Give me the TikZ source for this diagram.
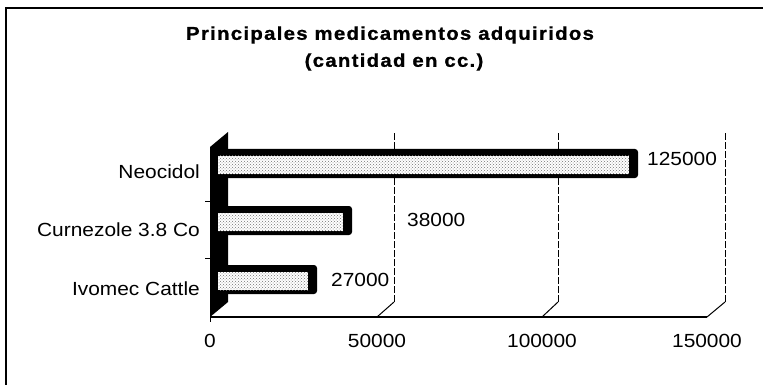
\documentclass[tikz,border=0pt]{standalone}
\usepackage{fontspec}
\setmainfont{Liberation Sans}[FakeStretch=1.1]
\newfontfamily\titlefont{Liberation Sans}[FakeStretch=1.1,LetterSpace=7,FakeBold=1]
\usetikzlibrary{patterns}
\begin{document}
\begin{tikzpicture}[x=1pt,y=-1pt,
  lbl/.style={font=\fontsize{19}{21}\selectfont, inner sep=0pt},
  ttl/.style={font=\titlefont\bfseries\fontsize{18.5}{20}\selectfont, inner sep=0pt},
  grid/.style={line width=1pt, dash pattern=on 7pt off 2pt},
  axisline/.style={line width=1.2pt},
  barface/.style={fill=white},
  bartex/.style={pattern=crosshatch dots, pattern color=gray!90!black}]
\useasboundingbox (0,0) rectangle (763,385);
% frame
\draw[line width=1.6pt] (5,8) -- (763,8);
\draw[line width=1.6pt] (6,8) -- (6,385);
% title
\node[ttl] (t1) at (390,35) {Principales medicamentos adquiridos};
\node[ttl] (t2) at (394,62) {(cantidad en cc.)};
% back gridlines
\foreach \gx/\fx in {394/377, 558/542, 725/707}{
  \draw[grid] (\gx,302) -- (\gx,132);
  \draw[line width=1pt] (\fx,317) -- (\gx,302);
}
% axis
\draw[axisline] (210,317) -- (707,317);
\draw[line width=1pt] (210,317) -- (210,322);
% left wall
\fill[black] (210,147) -- (228,132) -- (228,302) -- (210,317) -- cycle;
\draw[line width=1pt] (205,201) -- (210,201);
\draw[line width=1pt] (205,258) -- (210,258);
% bars
\foreach \yc/\xr in {164/638, 221/352, 280/317}{
  \fill[black, rounded corners=3pt] (213,\yc-15) rectangle (\xr,\yc+14);
  \fill[barface] (218,\yc-8) rectangle (\xr-9,\yc+10);
  \fill[bartex] (218,\yc-8) rectangle (\xr-9,\yc+10);
}
% category labels
\node[lbl, anchor=east] (c1) at (200,172) {Neocidol};
\node[lbl, anchor=east] (c2) at (200,230) {Curnezole 3.8 Co};
\node[lbl, anchor=east] (c3) at (200,289) {Ivomec Cattle};
% value labels
\node[lbl, anchor=west] (v1) at (647,159) {125000};
\node[lbl, anchor=west] (v2) at (407,220) {38000};
\node[lbl, anchor=west] (v3) at (331,280) {27000};
% tick labels
\node[lbl] (x0) at (210,341) {0};
\node[lbl] (x1) at (377,341) {50000};
\node[lbl] (x2) at (542,341) {100000};
\node[lbl] (x3) at (707,341) {150000};
\end{tikzpicture}
\end{document}
